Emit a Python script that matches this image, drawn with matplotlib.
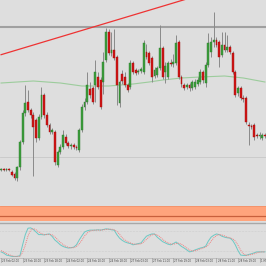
import numpy as np
import matplotlib
matplotlib.use('Agg')
from matplotlib import pyplot as plt

# hourly candles, prices in chart units (pips above base)
opens = [52, 53, 52, 53, 50, 48, 44, 55, 80, 109,
         120, 112, 107, 102, 84, 105, 127, 107, 97, 90,
         90, 57, 70, 75, 85, 79, 76, 77, 75, 72,
         92, 115, 120, 133, 134, 137, 145, 142, 140, 162,
         190, 169, 172, 165, 119, 148, 145, 137, 135, 159,
         152, 150, 151, 150, 170, 169, 164, 146, 147, 154,
         174, 150, 145, 159, 158, 159, 180, 145, 137, 135,
         137, 134, 135, 138, 140, 150, 139, 157, 170, 180,
         182, 180, 167, 177, 172, 175, 169, 150, 129, 134,
         124, 124, 97, 96, 97, 87, 86, 84, 87]
closes = [53, 52, 53, 52, 47, 44, 55, 80, 109, 119,
          112, 107, 95, 84, 105, 127, 107, 97, 90, 92,
          60, 70, 75, 87, 79, 76, 77, 75, 74, 92,
          115, 120, 137, 127, 120, 150, 135, 115, 160, 190,
          169, 172, 164, 137, 140, 141, 137, 132, 159, 150,
          149, 151, 153, 179, 165, 159, 145, 152, 154, 174,
          145, 156, 159, 158, 160, 179, 145, 138, 134, 137,
          134, 140, 140, 142, 150, 142, 157, 179, 180, 182,
          177, 165, 177, 172, 175, 170, 150, 127, 134, 124,
          123, 100, 96, 95, 85, 86, 87, 87, 86]
highs = [54, 54, 54, 54, 52, 50, 56, 82, 112, 137,
         132, 114, 110, 104, 108, 135, 129, 110, 99, 94,
         92, 72, 78, 92, 88, 81, 79, 79, 77, 94,
         118, 124, 150, 140, 136, 162, 150, 145, 170, 194,
         193, 190, 193, 167, 142, 152, 150, 139, 162, 161,
         154, 153, 155, 182, 178, 171, 166, 155, 156, 197,
         176, 160, 161, 163, 168, 187, 182, 147, 139, 139,
         139, 142, 143, 145, 153, 152, 160, 189, 185, 210,
         185, 182, 190, 190, 187, 177, 171, 152, 136, 136,
         127, 126, 100, 98, 99, 89, 90, 89, 89]
lows = [51, 51, 51, 51, 46, 42, 41, 52, 78, 106,
        110, 104, 46, 80, 82, 103, 104, 95, 88, 88,
        57, 55, 68, 73, 77, 74, 73, 73, 72, 70,
        90, 112, 118, 124, 118, 120, 133, 113, 128, 160,
        167, 166, 162, 117, 115, 138, 135, 130, 133, 148,
        147, 148, 149, 148, 163, 157, 140, 144, 145, 152,
        143, 139, 143, 156, 155, 157, 143, 135, 132, 133,
        131, 132, 133, 136, 138, 139, 135, 155, 165, 175,
        175, 155, 165, 170, 170, 168, 148, 125, 126, 122,
        120, 98, 77, 93, 82, 84, 83, 82, 84]

# moving average
ma_bars = [0, 12, 22, 30, 40, 49, 55, 60, 67, 74, 83, 90, 98]
ma_vals = [139, 141, 139, 136, 136, 138, 140, 142, 144, 145, 146, 144, 140]

# stochastic main / signal
stoch_k = [16, 12, 6, 4, 2, 1, 2, 4, 38, 70, 90, 91, 86, 78, 70, 70, 69, 71, 72, 64,
           53, 46, 38, 33, 30, 28, 29, 31, 38, 53, 66, 78, 82, 84, 84, 84, 85, 84, 86, 88,
           87, 85, 84, 70, 59, 52, 47, 44, 42, 38, 40, 42, 44, 55, 65, 69, 72, 72, 62, 55,
           48, 44, 40, 38, 42, 47, 40, 33, 28, 22, 16, 18, 22, 25, 28, 30, 34, 50, 62, 68,
           72, 70, 65, 62, 60, 59, 52, 38, 20, 6, 5, 5, 8, 10, 13, 16, 16, 16, 16]
stoch_d = [20, 16, 11, 7, 4, 2, 2, 2, 15, 37, 66, 84, 89, 85, 78, 73, 70, 70, 71, 69,
           63, 54, 46, 39, 34, 30, 29, 29, 33, 41, 52, 66, 75, 81, 83, 84, 84, 84, 85, 86,
           87, 87, 85, 80, 71, 60, 53, 48, 44, 41, 40, 40, 41, 47, 55, 63, 69, 71, 69, 63,
           55, 49, 44, 41, 40, 42, 43, 40, 34, 28, 22, 19, 19, 22, 25, 28, 31, 38, 49, 60,
           67, 70, 69, 66, 62, 60, 57, 50, 37, 21, 10, 5, 6, 8, 10, 13, 15, 16, 16]

tick_bars = [0, 8, 16, 24, 32, 40, 48, 56, 64, 72, 80, 88, 96]
tick_labels = ['23 Feb 02:00', '23 Feb 10:00', '23 Feb 18:00', '24 Feb 02:00',
               '24 Feb 10:00', '24 Feb 18:00', '27 Feb 03:00', '27 Feb 11:00',
               '27 Feb 19:00', '28 Feb 03:00', '28 Feb 11:00', '28 Feb 19:00',
               '1 Mar 03:00']

resistance = 195
support = 65
zone_low, zone_high, zone_mid = 1, 16, 6
trend_bars = [0, 98]
trend_vals = [167.3, 246.5]

bg = '#dedede'
fig = plt.figure(figsize=(2.66, 2.66), dpi=100, facecolor=bg)

# main price panel
ax = fig.add_axes([0, 44 / 266, 1, 222 / 266], facecolor=bg)
x = np.arange(len(opens))
o = np.array(opens, float)
c = np.array(closes, float)
up = c >= o
ax.vlines(x, lows, highs, color='#8a8a8a', lw=0.7, zorder=2)
body = np.where(np.abs(c - o) < 1, 1, c - o)
ax.bar(x[up], body[up], bottom=o[up], width=0.7, color='#3c9e3c',
       edgecolor='#2d7a2d', lw=0.3, zorder=3)
ax.bar(x[~up], body[~up], bottom=o[~up], width=0.7, color='#d01414',
       edgecolor='#a01010', lw=0.3, zorder=3)

ax.plot(ma_bars, ma_vals, color='#9ccc9c', lw=0.8, zorder=1)
ax.axhline(resistance, color='#a0a0a0', lw=1.5, zorder=1)
ax.axhline(support, color='#c8c8c8', lw=0.6, zorder=1)
ax.plot(trend_bars, trend_vals, color='#ee3333', lw=0.9, zorder=4)
ax.axhspan(zone_low, zone_high, color='#ffa47c', lw=0, zorder=1)
ax.axhline(zone_high, color='#f08c64', lw=0.5, zorder=1)
ax.axhline(zone_mid, color='#c8603c', lw=0.9, zorder=1)

ax.set_xlim(-0.4, 98.4)
ax.set_ylim(0, 222)
ax.axis('off')

# stochastic panel
ax2 = fig.add_axes([0, 9 / 266, 1, 32 / 266], facecolor=bg)
ax2.axhline(80, color='#c0c0c0', lw=0.4, ls=':')
ax2.axhline(20, color='#c0c0c0', lw=0.4, ls=':')
ax2.plot(x, stoch_k, color='#6cc8c4', lw=0.7)
ax2.plot(x, stoch_d, color='#f08080', lw=0.7, ls=(0, (1, 1)))
ax2.set_xlim(-0.4, 98.4)
ax2.set_ylim(0, 100)
ax2.axis('off')

# separators and time axis
fig.add_artist(plt.Line2D([0, 1], [43 / 266, 43 / 266], color='#a8a8a8', lw=1.0))
fig.add_artist(plt.Line2D([0, 1], [8.5 / 266, 8.5 / 266], color='#b4b4b4', lw=0.5))
for b, lab in zip(tick_bars, tick_labels):
    xf = (b + 0.4) / 98.8
    fig.add_artist(plt.Line2D([xf, xf], [4.5 / 266, 8.5 / 266], color='#909090', lw=0.4))
    fig.text(xf + 0.004, 5 / 266, lab, fontsize=1.9, color='#404040',
             ha='left', va='center')

plt.savefig('out.png', dpi=100, facecolor=bg)
